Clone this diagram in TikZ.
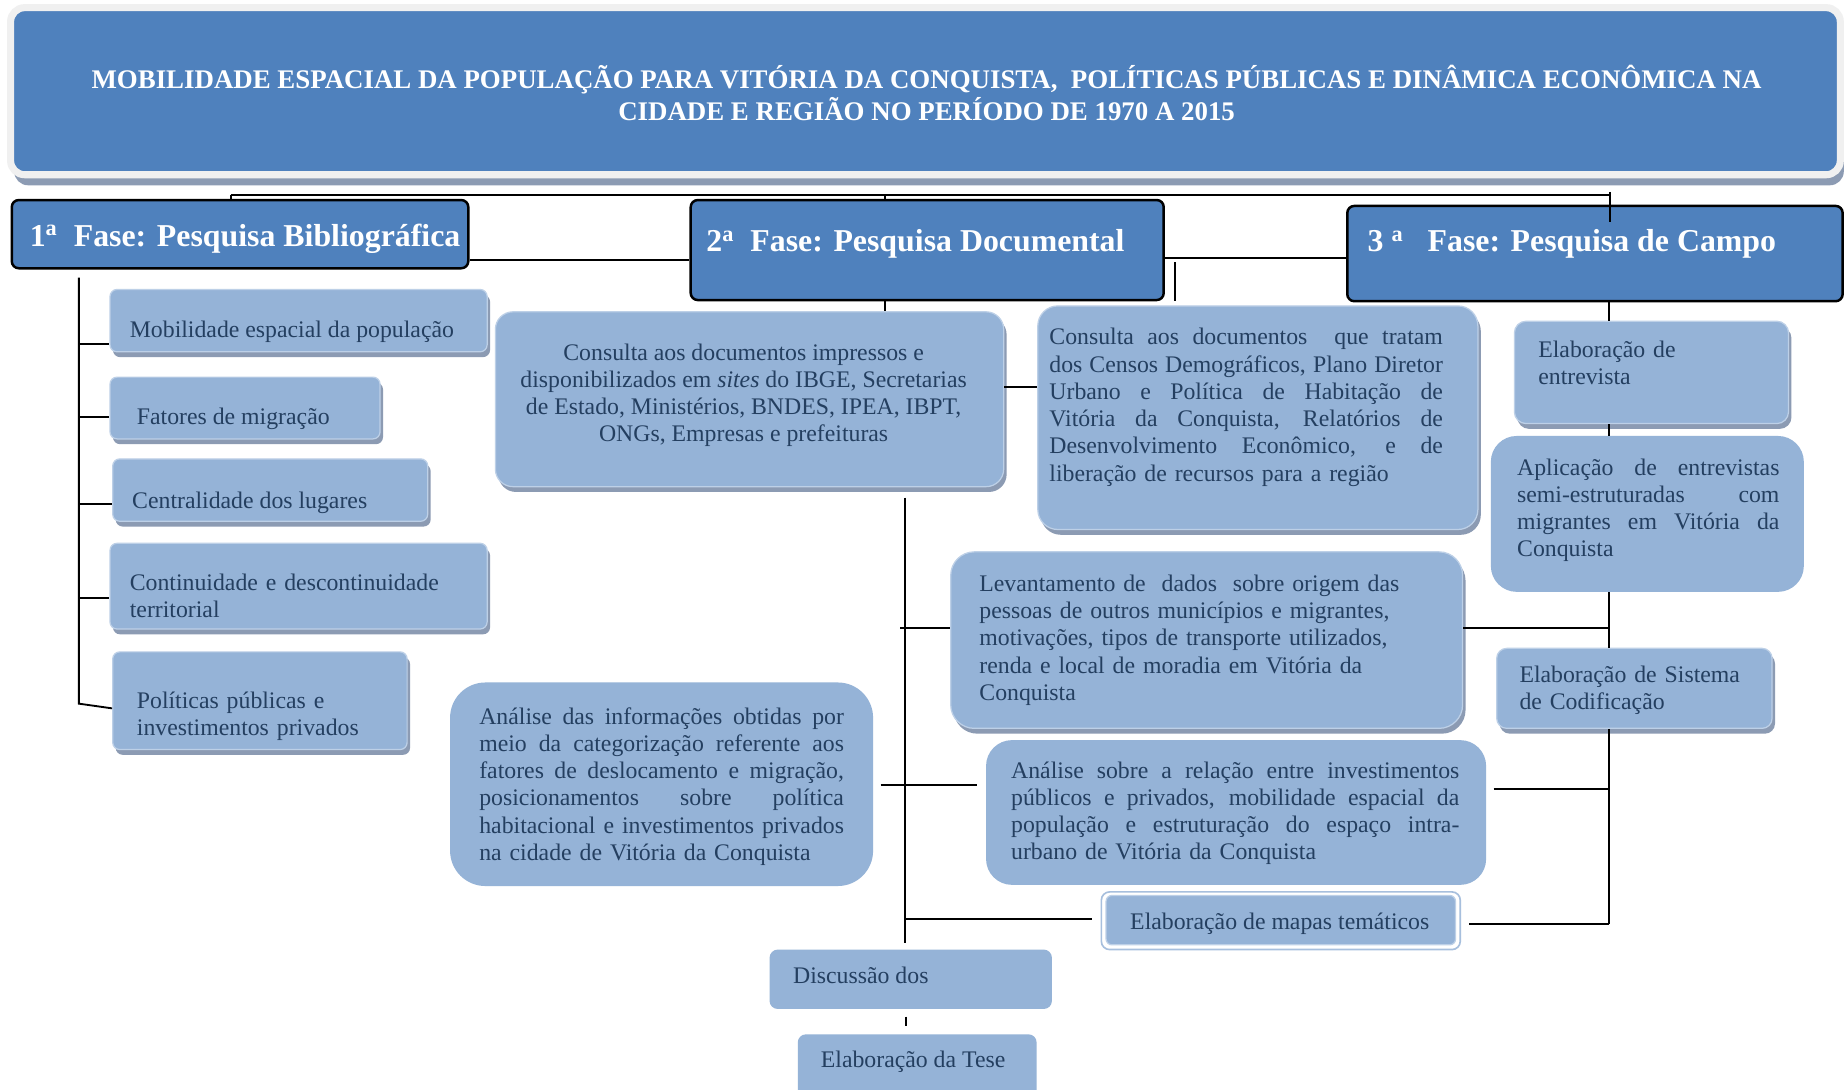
\documentclass[tikz,border=0pt]{standalone}
\usepackage{fontspec}
\setmainfont{Liberation Serif}
\usetikzlibrary{fit,shadows}
\definecolor{tblue}{HTML}{4F81BD}
\definecolor{lblue}{HTML}{95B3D7}
\definecolor{ltxt}{HTML}{243F60}
\definecolor{shad}{HTML}{8C9BB3}
\definecolor{tframe}{HTML}{F0F0F0}
\definecolor{edgec}{HTML}{BDD0E7}
\definecolor{frameline}{HTML}{A7BFDD}
\newcommand{\jline}[2]{{\spaceskip=0pt\xspaceskip=0pt\makebox[#1][s]{#2}}}
\tikzset{
  lbox/.style={inner sep=0pt, fill=lblue, draw=edgec, line width=0.6pt},
  flat/.style={inner sep=0pt, fill=lblue, draw=none},
  shd/.style={drop shadow={shadow xshift=0.05cm, shadow yshift=-0.09cm, fill=shad, opacity=1}},
  phase/.style={inner sep=0pt, fill=tblue, draw=black, line width=1.2pt, rounded corners=0.12cm},
  btxt/.style={inner sep=0pt, text=ltxt, font=\fontsize{11.5}{13.2}\selectfont, anchor=base west},
  ctxt/.style={inner sep=0pt, text=ltxt, font=\fontsize{11.5}{13.2}\selectfont, anchor=base},
  ftxt/.style={inner sep=0pt, text=white, font=\fontsize{15.4}{18}\selectfont\bfseries, anchor=base west},
  conn/.style={draw=black, line width=0.9pt},
}
\begin{document}
\begin{tikzpicture}[x=0.02cm, y=-0.02cm]
\path[fill=white, use as bounding box] (0,0) rectangle (1568,926);

% title
\node[fit={(9,6.5) (1564,148.5)}, inner sep=0pt, fill=tblue, draw=tframe, line width=0.12cm,
      rounded corners=0.24cm,
      drop shadow={shadow xshift=0.06cm, shadow yshift=-0.18cm, fill=shad, opacity=1}] (T) {};
\node[inner sep=0pt, text=white, font=\fontsize{13}{14.6}\selectfont\bfseries,
      anchor=base] (Tt) at (787.5,75)
  {\begin{tabular}[t]{@{}c@{}}MOBILIDADE ESPACIAL DA POPULAÇÃO PARA VITÓRIA DA CONQUISTA,\ \ POLÍTICAS PÚBLICAS E DINÂMICA ECONÔMICA NA\\ CIDADE E REGIÃO NO PERÍODO DE 1970 A 2015\end{tabular}};

% phases
\node[phase, fit={(10,170) (398,228)}] (F1) {};
\node[ftxt] (F1t) at (25,209.6) {1\textsuperscript{a}\ \ Fase: Pesquisa Bibliográfica};
\node[phase, fit={(587,170) (989,255)}] (F2) {};
\node[ftxt] (F2t) at (600,214) {2\textsuperscript{a}\ \ Fase: Pesquisa Documental};
\node[phase, fit={(1145,175) (1566,256)}] (F3) {};
\node[ftxt] (F3t) at (1162,214) {3 \textsuperscript{a}\ \ \ Fase: Pesquisa de Campo};

% left column
\node[lbox, shd, rounded corners=0.12cm, fit={(93.5,246) (414,299)}] (L1) {};
\node[btxt] (L1t) at (110,287) {Mobilidade espacial da população};
\node[lbox, shd, rounded corners=0.12cm, fit={(93.5,320.5) (323,373)}] (L2) {};
\node[btxt] (L2t) at (116,361) {Fatores de migração};
\node[lbox, shd, rounded corners=0.12cm, fit={(95.8,390) (363.5,443)}] (L3) {};
\node[btxt] (L3t) at (112,432) {Centralidade dos lugares};
\node[lbox, shd, rounded corners=0.12cm, fit={(93.5,461.7) (414,534.6)}] (L4) {};
\node[btxt, text width=6cm] (L4t) at (110,501.5) {Continuidade e descontinuidade\\territorial};
\node[lbox, shd, rounded corners=0.12cm, fit={(95.8,554) (346,637)}] (L5) {};
\node[btxt, text width=4.6cm] (L5t) at (116,602) {Políticas públicas e\\investimentos privados};

% middle column
\node[lbox, shd, rounded corners=0.3cm, fit={(421,265) (853,413.6)}] (D1) {};
\node[ctxt] (D1t) at (632,306)
  {\begin{tabular}[t]{@{}c@{}}Consulta aos documentos impressos e\\disponibilizados em \textit{sites} do IBGE, Secretarias\\de Estado, Ministérios, BNDES, IPEA, IBPT,\\ONGs, Empresas e prefeituras\end{tabular}};

\node[lbox, shd, rounded corners=0.34cm, fit={(882,260) (1256,450)}] (D2) {};
\node[btxt, text width=6.69cm] (D2t) at (891.5,293)
  {\jline{6.69cm}{Consulta aos documentos\ \ que tratam}\\
   \jline{6.69cm}{dos Censos Demográficos, Plano Diretor}\\
   \jline{6.69cm}{Urbano e Política de Habitação de}\\
   \jline{6.69cm}{Vitória da Conquista, Relatórios de}\\
   \jline{6.69cm}{Desenvolvimento Econômico, e de}\\
   liberação de recursos para a região};

\node[lbox, shd, rounded corners=0.4cm, fit={(808,469) (1243,619)}] (D3) {};
\node[btxt, text width=8cm] (D3t) at (832,502.5)
  {Levantamento de\ \ dados\ \ sobre origem das\\pessoas de outros municípios e migrantes,\\motivações, tipos de transporte utilizados,\\renda e local de moradia em Vitória da\\Conquista};

\node[flat, rounded corners=0.6cm, fit={(382.5,580) (742,753)}] (D4) {};
\node[btxt, text width=6.2cm] (D4t) at (407,615.3)
  {\jline{6.2cm}{Análise das informações obtidas por}\\
   \jline{6.2cm}{meio da categorização referente aos}\\
   \jline{6.2cm}{fatores de deslocamento e migração,}\\
   \jline{6.2cm}{posicionamentos sobre política}\\
   \jline{6.2cm}{habitacional e investimentos privados}\\
   na cidade de Vitória da Conquista};

\node[flat, rounded corners=0.44cm, fit={(838,629) (1263,752)}] (D5) {};
\node[btxt, text width=7.62cm] (D5t) at (859,661.3)
  {\jline{7.62cm}{Análise sobre a relação entre investimentos}\\
   \jline{7.62cm}{públicos e privados, mobilidade espacial da}\\
   \jline{7.62cm}{população e estruturação do espaço intra-}\\
   urbano de Vitória da Conquista};

\node[inner sep=0pt, fill=white, draw=frameline, line width=0.8pt, rounded corners=0.14cm,
      fit={(936,758) (1241,807)}] (D6o) {};
\node[lbox, rounded corners=0.1cm, fit={(940,761) (1237,803)}] (D6) {};
\node[ctxt] (D6t) at (1087.6,789.7) {Elaboração de mapas temáticos};

% right column
\node[lbox, shd, rounded corners=0.2cm, fit={(1287,273) (1520,360)}] (R1) {};
\node[btxt, text width=4cm] (R1t) at (1307,304) {Elaboração de\\entrevista};
\node[flat, rounded corners=0.44cm, fit={(1267,370.5) (1533,503)}] (R2) {};
\node[btxt, text width=4.46cm] (R2t) at (1289,403.7)
  {\jline{4.46cm}{Aplicação de entrevistas}\\
   \jline{4.46cm}{semi-estruturadas com}\\
   \jline{4.46cm}{migrantes em Vitória da}\\
   Conquista};
\node[lbox, shd, rounded corners=0.17cm, fit={(1272,551) (1506,619)}] (R3) {};
\node[btxt, text width=4.4cm] (R3t) at (1291,580) {Elaboração de Sistema\\de Codificação};

% bottom
\node[flat, rounded corners=0.14cm, fit={(654,807) (894,857.5)}] (Disc) {};
\node[btxt] (Disct) at (673.7,836) {Discussão dos};
\node[flat, rounded corners=0.14cm, fit={(678,879) (881,940)}] (Tese) {};
\node[ctxt] (Teset) at (776,907) {Elaboração da Tese};

% connectors: top bus
\coordinate (b1) at (196,166);
\coordinate (b2) at (752,166);
\coordinate (b3) at (1368,166);
\coordinate (b3top) at (1368,163);
\coordinate (b3bot) at (1368,189);
\draw[conn] (b1) -- (b3);
\draw[conn] (b1) -- (b1 |- F1.north);
\draw[conn] (b2) -- (b2 |- F2.north);
\draw[conn] (b3top) -- (b3bot);

\coordinate (y221) at (0,221);
\coordinate (y219) at (0,219.5);
\draw[conn] (F1.east |- y221) -- (F2.west |- y221);
\draw[conn] (F2.east |- y219) -- (F3.west |- y219);
\coordinate (v9a) at (998.5,223);
\coordinate (v9b) at (998.5,256);
\draw[conn] (v9a) -- (v9b);
\draw[conn] (b2 |- F2.south) -- (b2 |- D1.north);

% left bus
\coordinate (lvt) at (67,236);
\coordinate (lvb) at (67,598);
\coordinate (l5y) at (0,602);
\draw[conn] (lvt) -- (lvb) -- (L5.west |- l5y);
\coordinate (lt1) at (67,292.4);
\coordinate (lt2) at (67,354.5);
\coordinate (lt3) at (67,428.4);
\coordinate (lt4) at (67,508);
\draw[conn] (lt1) -- (lt1 -| L1.west);
\draw[conn] (lt2) -- (lt2 -| L2.west);
\draw[conn] (lt3) -- (lt3 -| L3.west);
\draw[conn] (lt4) -- (lt4 -| L4.west);

% middle
\coordinate (y328) at (0,328.6);
\draw[conn] (D1.east |- y328) -- (D2.west |- y328);
\coordinate (mvt) at (769,423);
\coordinate (mvb) at (769,801);
\draw[conn] (mvt) -- (mvb);
\coordinate (m3) at (765,534);
\draw[conn] (m3) -- (m3 -| D3.west);
\coordinate (y667) at (0,667);
\draw[conn, shorten <=0.12cm, shorten >=0.14cm] (D4.east |- y667) -- (D5.west |- y667);
\coordinate (m6) at (769,781);
\draw[conn, shorten >=0.14cm] (m6) -- (m6 -| D6o.west);
\coordinate (dt1) at (770,864);
\coordinate (dt2) at (770,872);
\draw[conn] (dt1) -- (dt2);

% right bus
\coordinate (rx) at (1367.5,0);
\draw[conn] (rx |- F3.south) -- (rx |- R1.north);
\draw[conn] (rx |- R1.south) -- (rx |- R2.north);
\draw[conn] (rx |- R2.south) -- (rx |- R3.north);
\coordinate (rb) at (1367.5,785.5);
\draw[conn] (rx |- R3.south) -- (rb);
\draw[conn, shorten >=0.14cm] (rb) -- (rb -| D6o.east);
\coordinate (y534) at (0,534);
\draw[conn] (D3.east |- y534) -- (rx |- y534);
\coordinate (y671) at (0,670.6);
\draw[conn, shorten <=0.12cm] (D5.east |- y671) -- (rx |- y671);
\end{tikzpicture}
\end{document}
